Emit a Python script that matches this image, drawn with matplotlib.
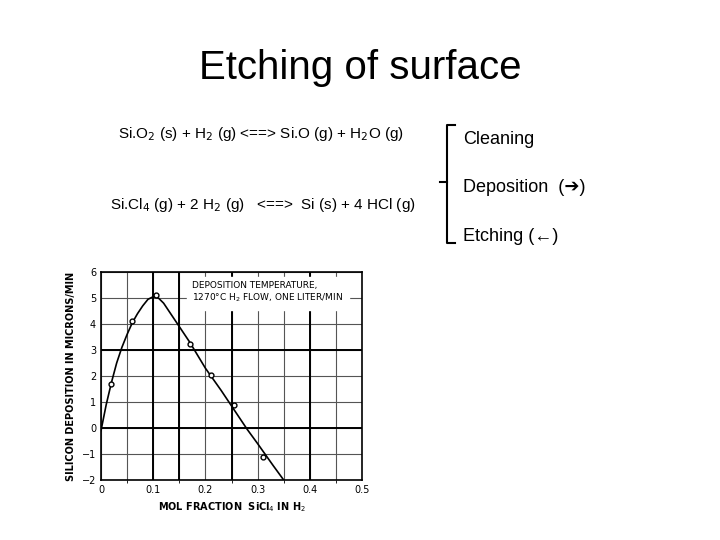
import matplotlib
matplotlib.use('Agg')
import matplotlib.pyplot as plt
import numpy as np

# measured points (mol fraction SiCl4, deposition microns/min)
pts_x = [0.02, 0.06, 0.105, 0.17, 0.21, 0.255, 0.31]
pts_y = [1.7, 4.1, 5.1, 3.25, 2.05, 0.9, -1.1]
# smooth curve
curve_x = [0.0, 0.01, 0.02, 0.03, 0.04, 0.05, 0.06, 0.07, 0.08, 0.09, 0.10, 0.11, 0.12, 0.13,
           0.14, 0.15, 0.17, 0.20, 0.23, 0.25, 0.28, 0.30, 0.33, 0.35]
curve_y = [-0.1, 0.9, 1.75, 2.5, 3.1, 3.6, 4.05, 4.4, 4.7, 4.95, 5.05, 5.0, 4.8, 4.5,
           4.2, 3.9, 3.3, 2.3, 1.45, 0.85, -0.05, -0.6, -1.45, -2.0]

fig = plt.figure(figsize=(7.2, 5.4), dpi=100)
W, H = 720, 540
def fx(px): return px / W
def fy(py): return 1 - py / H

fig.text(0.5, fy(68), 'Etching of surface', ha='center', va='center', fontsize=29,
         family='Liberation Sans')
fig.text(fx(118), fy(134), 'Si.O$_2$ (s) + H$_2$ (g) <==> Si.O (g) + H$_2$O (g)', ha='left',
         va='center', fontsize=11, family='Liberation Sans')
fig.text(fx(110), fy(205), 'Si.Cl$_4$ (g) + 2 H$_2$ (g)   <==>  Si (s) + 4 HCl (g)', ha='left',
         va='center', fontsize=11, family='Liberation Sans')
fig.text(fx(463), fy(140), 'Cleaning', ha='left', va='center', fontsize=13, family='Liberation Sans')
fig.text(fx(463), fy(187), 'Deposition  (\u2794)', ha='left', va='center', fontsize=13,
         family=['Liberation Sans', 'DejaVu Sans'])
fig.text(fx(463), fy(236), 'Etching (\u2190)', ha='left', va='center', fontsize=13,
         family=['Liberation Sans', 'DejaVu Sans'])
# bracket
bx = [fx(455), fx(447), fx(447), fx(455)]
by = [fy(125), fy(125), fy(243), fy(243)]
fig.add_artist(plt.Line2D(bx, by, color='black', lw=1.5))
fig.add_artist(plt.Line2D([fx(440), fx(447)], [fy(182), fy(182)], color='black', lw=1.5))

ax = fig.add_axes([fx(101), fy(480), fx(362) - fx(101), fy(272) - fy(480)])
ax.plot(curve_x, curve_y, color='black', lw=1.2)
ax.plot(pts_x, pts_y, 'o', mfc='white', mec='black', ms=3.5)
ax.set_xlim(0, 0.5)
ax.set_ylim(-2, 6)
ax.set_xticks([0, 0.1, 0.2, 0.3, 0.4, 0.5])
ax.set_xticklabels(['0', '0.1', '0.2', '0.3', '0.4', '0.5'])
ax.set_yticks(range(-2, 7))
ax.set_xticks(np.arange(0, 0.51, 0.05), minor=True)
ax.grid(True, which='both', color='#555555', lw=0.8)
for xv in [0.1, 0.15, 0.25, 0.4]:
    ax.axvline(xv, color='black', lw=1.4)
for yv in [0, 3]:
    ax.axhline(yv, color='black', lw=1.4)
ax.tick_params(labelsize=7, length=0)
ax.set_xlabel('MOL FRACTION  SiCl$_4$ IN H$_2$', fontsize=7, fontweight='bold')
ax.set_ylabel('SILICON DEPOSITION IN MICRONS/MIN', fontsize=7, fontweight='bold')
ax.text(0.175, 5.2, 'DEPOSITION TEMPERATURE,\n1270\u00b0C H$_2$ FLOW, ONE LITER/MIN',
        fontsize=6.5, va='center', ha='left', backgroundcolor='white')
for s in ax.spines.values():
    s.set_linewidth(1.2)

fig.savefig('out.png', dpi=100)
